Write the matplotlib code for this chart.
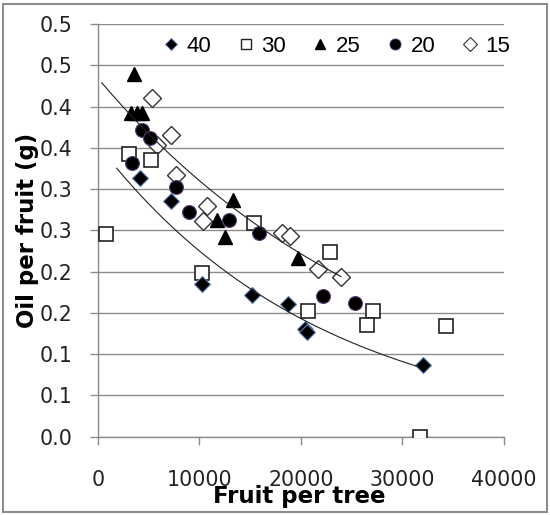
import matplotlib
matplotlib.use('Agg')
import numpy as np
import matplotlib.pyplot as plt
from matplotlib.lines import Line2D
from matplotlib.patches import Rectangle

# %% data: fruit per tree vs oil per fruit, one series per group

fruit_40 = [4160, 7220, 10300, 15160, 18760, 20400, 20570, 32050]
oil_40 = [0.314, 0.285, 0.185, 0.172, 0.161, 0.131, 0.127, 0.087]

fruit_30 = [790, 3110, 5220, 10300, 15410, 22860, 20730, 27070, 26480, 34250, 31720]
oil_30 = [0.245, 0.342, 0.335, 0.198, 0.259, 0.224, 0.152, 0.152, 0.135, 0.134, 0.0]

fruit_25 = [3570, 3290, 3880, 4390, 13290, 11710, 12530, 19740]
oil_25 = [0.440, 0.392, 0.392, 0.392, 0.287, 0.262, 0.242, 0.217]

fruit_20 = [4390, 5150, 3350, 7680, 8990, 12950, 15880, 22200, 25330]
oil_20 = [0.371, 0.362, 0.331, 0.303, 0.272, 0.262, 0.247, 0.170, 0.162]

fruit_15 = [5320, 7220, 5810, 7680, 10730, 10390, 18110, 18930, 21710, 23950]
oil_15 = [0.410, 0.366, 0.354, 0.317, 0.280, 0.261, 0.247, 0.243, 0.203, 0.194]

# exponential trendlines y = a*exp(b*x) over [x_start, x_end]
trend_upper = (0.4346, -3.367e-5, 400, 23950)
trend_lower = (0.3541, -4.528e-5, 1870, 31555)

y_ticks = [0.0, 0.05, 0.1, 0.15, 0.2, 0.25, 0.3, 0.35, 0.4, 0.45, 0.5]
y_tick_labels = ['0.0', '0.1', '0.1', '0.2', '0.2', '0.3', '0.3', '0.4', '0.4', '0.5', '0.5']
x_ticks = [0, 10000, 20000, 30000, 40000]

# %% figure

fig = plt.figure(figsize=(5.5, 5.15), dpi=100)
ax = fig.add_axes([97.7/550, 1-436.7/515, (504-97.7)/550, (436.7-24)/515])

grid_col = '#8c8c8c'
ax.set_xlim(0, 40000)
ax.set_ylim(0, 0.5)
ax.set_yticks(y_ticks)
ax.set_yticklabels(y_tick_labels)
ax.set_xticks(x_ticks)
ax.set_xticklabels([str(t) for t in x_ticks])
ax.yaxis.grid(True, color=grid_col, lw=1.0)
ax.set_axisbelow(True)
for s in ['top', 'right']:
    ax.spines[s].set_visible(False)
for s in ['left', 'bottom']:
    ax.spines[s].set_color(grid_col)
    ax.spines[s].set_linewidth(1.0)
ax.tick_params(axis='both', direction='out', length=6, width=1.0, color=grid_col,
               labelsize=14.8, labelcolor='#222222')
ax.tick_params(axis='y', pad=12)
ax.tick_params(axis='x', pad=18)
for lbl in ax.get_xticklabels() + ax.get_yticklabels():
    lbl.set_family('DejaVu Sans')

# markers: lower groups drawn first
ax.plot(fruit_15, oil_15, ls='none', marker='D', ms=9.5, mfc='white', mec='#333333',
        mew=1.0, zorder=3)
ax.plot(fruit_30, oil_30, ls='none', marker='s', ms=9.4, mfc='white', mec='#222222',
        mew=1.2, zorder=4)
ax.plot(fruit_25, oil_25, ls='none', marker='^', ms=10, mfc='black', mec='black', zorder=5)
ax.plot(fruit_20, oil_20, ls='none', marker='o', ms=10, mfc='black', mec='#5b3f7a',
        mew=0.8, zorder=6)
ax.plot(fruit_40, oil_40, ls='none', marker='D', ms=8.5, mfc='black', mec='#5a7fb5',
        mew=0.8, zorder=7)

# trendlines
for a, b, x0, x1 in [trend_upper, trend_lower]:
    xs = np.linspace(x0, x1, 200)
    ax.plot(xs, a*np.exp(b*xs), color='#222222', lw=0.8, zorder=8)

# legend
handles = [
    Line2D([], [], ls='none', marker='D', ms=6.5, mfc='black', mec='#5a7fb5', mew=0.6),
    Line2D([], [], ls='none', marker='s', ms=7, mfc='white', mec='#222222', mew=1.0),
    Line2D([], [], ls='none', marker='^', ms=7.5, mfc='black', mec='black'),
    Line2D([], [], ls='none', marker='o', ms=8, mfc='black', mec='#5b3f7a', mew=0.6),
    Line2D([], [], ls='none', marker='D', ms=7, mfc='white', mec='#333333', mew=0.8),
]
leg = ax.legend(handles, ['40', '30', '25', '20', '15'], loc='center',
                bbox_to_anchor=(0.588, 0.945), ncol=5, frameon=False,
                handlelength=0.7, handletextpad=0.35, columnspacing=1.2,
                prop={'family': 'Liberation Sans', 'size': 16})

# axis titles
fig.text(28/550, 1-230/515, 'Oil per fruit (g)', rotation=90, ha='center', va='center',
         fontsize=16.5, fontweight='bold', family='DejaVu Sans')
fig.text(299/550, 1-496/515, 'Fruit per tree', ha='center', va='center',
         fontsize=16.5, fontweight='bold', family='DejaVu Sans')

# chart area border
fig.patches.append(Rectangle((3.3/550, 3/515), 543.5/550, 508.5/515, transform=fig.transFigure,
                             fill=False, edgecolor='#8c8c8c', lw=1.5))

fig.savefig('out.png', dpi=100)
